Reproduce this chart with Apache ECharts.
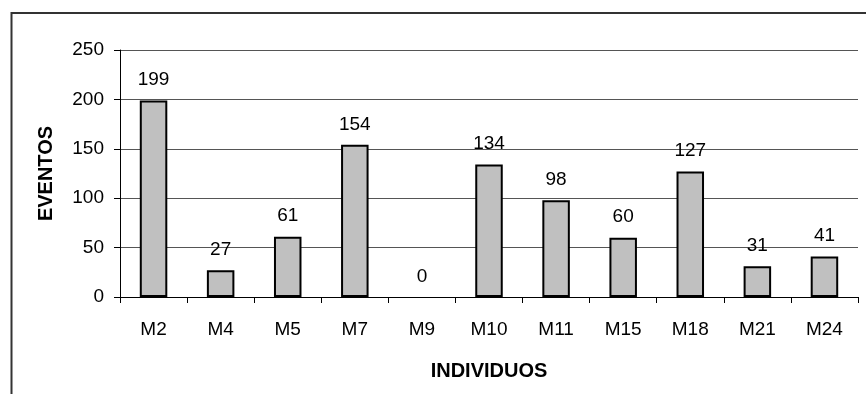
<!DOCTYPE html>
<html>
<head>
<meta charset="utf-8">
<script src="https://cdn.jsdelivr.net/npm/echarts@6/dist/echarts.min.js"></script>
<style>
  html, body { margin: 0; padding: 0; background: #fff; }
  #chart { width: 866px; height: 394px; }
</style>
</head>
<body>
<div id="chart"></div>
<script>
// Individuals and number of recorded events for each
const categories = ['M2', 'M4', 'M5', 'M7', 'M9', 'M10', 'M11', 'M15', 'M18', 'M21', 'M24'];
const eventos = [199, 27, 61, 154, 0, 134, 98, 60, 127, 31, 41];
const yTicks = [0, 50, 100, 150, 200, 250];

const FONT = 'Liberation Sans, Arial, sans-serif';
const chart = echarts.init(document.getElementById('chart'), null, { renderer: 'canvas' });

// Empty bars get no outline so only their label shows
const barData = eventos.map(v => ({
  value: v,
  itemStyle: v === 0 ? { borderWidth: 0 } : undefined
}));

chart.setOption({
  animation: false,
  backgroundColor: '#ffffff',
  grid: { left: 120, right: 8, top: 50, bottom: 97, containLabel: false },
  graphic: [{
    type: 'polyline',
    shape: { points: [[11.5, 420], [11.5, 13], [880, 13]] },
    style: { stroke: '#333333', lineWidth: 2, fill: null },
    silent: true
  }],
  xAxis: {
    type: 'category',
    data: categories,
    boundaryGap: true,
    name: 'INDIVIDUOS',
    nameLocation: 'middle',
    nameGap: 64,
    nameTextStyle: { fontFamily: FONT, fontSize: 20, fontWeight: 'bold', color: '#000' },
    axisLine: { lineStyle: { color: '#000', width: 1 } },
    axisTick: { show: true, alignWithLabel: false, length: 6, lineStyle: { color: '#000' } },
    axisLabel: { fontFamily: FONT, fontSize: 19, color: '#000', margin: 23 },
    splitLine: { show: false }
  },
  yAxis: {
    type: 'value',
    min: yTicks[0],
    max: yTicks[yTicks.length - 1],
    interval: 50,
    name: 'EVENTOS',
    nameLocation: 'middle',
    nameGap: 64,
    nameRotate: 90,
    nameTextStyle: { fontFamily: FONT, fontSize: 20, fontWeight: 'bold', color: '#000' },
    axisLine: { show: true, lineStyle: { color: '#000', width: 1 } },
    axisTick: { show: true, length: 6, lineStyle: { color: '#000' } },
    axisLabel: { fontFamily: FONT, fontSize: 19, color: '#000', margin: 16 },
    splitLine: {
      show: true,
      lineStyle: { color: '#555555', width: 1 },
      interval: function (idx, val) { return val !== '250'; }
    }
  },
  series: [{
    type: 'bar',
    data: barData,
    barWidth: '41%',
    itemStyle: { color: '#c0c0c0', borderColor: '#000', borderWidth: 2 },
    label: {
      show: true,
      position: 'top',
      distance: 11,
      fontFamily: FONT,
      fontSize: 19,
      color: '#000'
    }
  }]
});
</script>
</body>
</html>
